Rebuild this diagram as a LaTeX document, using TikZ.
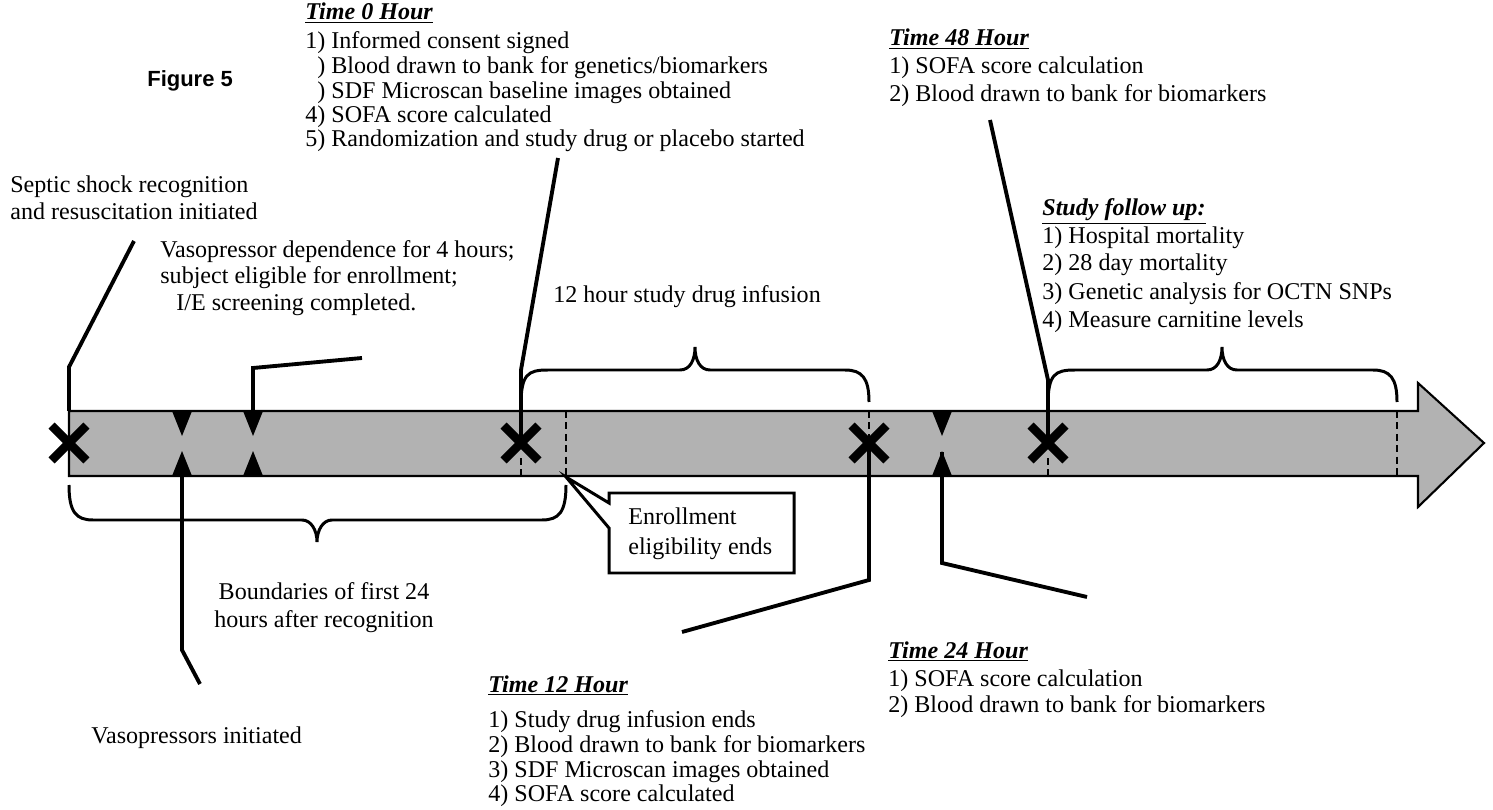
\documentclass[tikz,border=0pt]{standalone}
\usepackage{fontspec}
\setmainfont{Liberation Serif}
\newfontfamily\figfont{Liberation Sans}
\usetikzlibrary{shapes.misc}
\definecolor{barfill}{RGB}{178,178,178}
\begin{document}
\begin{tikzpicture}[x=0.02cm,y=-0.02cm,
  txt/.style={anchor=base west, inner sep=0pt, font=\fontsize{13.7}{14}\selectfont},
  ctxt/.style={anchor=base, inner sep=0pt, font=\fontsize{13.7}{14}\selectfont},
  ttl/.style={anchor=base west, inner sep=0pt, font=\fontsize{13.7}{14}\selectfont\bfseries\itshape},
  conn/.style={line width=2.2pt, line join=miter},
  bracestyle/.style={line width=1.7pt},
  xmark/.style={draw, cross out, line width=5pt, minimum size=0.52cm, inner sep=0pt},
  dashln/.style={dash pattern=on 4pt off 2.5pt, line width=0.6pt},
  tri/.style={fill=black}
]
\useasboundingbox (0,0) rectangle (1493,810);

% ---- timeline bar ----
\draw[fill=barfill, line width=1.2pt] (69,411) -- (1418,411) -- (1418,383) -- (1484,443)
  -- (1418,507) -- (1418,476) -- (69,476) -- cycle;

% dashed ticks
\draw[dashln] (521,458) -- (521,476);
\draw[dashln] (566,411) -- (566,476);
\draw[dashln] (869,411) -- (869,476);
\draw[dashln] (1048,458) -- (1048,476);
\draw[dashln] (1397,411) -- (1397,476);

% triangles
\foreach \tx in {182,253,942}{
  \fill[tri] (\tx-10,411) -- (\tx+10,411) -- (\tx,436) -- cycle;
  \fill[tri] (\tx-10,476) -- (\tx+10,476) -- (\tx,451) -- cycle;
}

% X marks
\node[xmark] (xs) at (69,443) {};
\node[xmark] (x0) at (521,443) {};
\node[xmark] (x12) at (869,443) {};
\node[xmark] (x48) at (1048,443) {};

% ---- texts ----
\node[anchor=base west, inner sep=0pt, font=\figfont\fontsize{12.5}{14}\selectfont\bfseries] (fig) at (147,87) {Figure 5};

\node[ttl] (t0t) at (305,20) {\underline{Time 0 Hour}};
\node[txt] (t0a) at (305,49) {1) Informed consent signed};
\node[txt] (t0b) at (305,74) {\phantom{2}) Blood drawn to bank for genetics/biomarkers};
\node[txt] (t0c) at (305,99) {\phantom{3}) SDF Microscan baseline images obtained};
\node[txt] (t0d) at (305,123) {4) SOFA score calculated};
\node[txt] (t0e) at (305,147) {5) Randomization and study drug or placebo started};

\node[ttl] (t48t) at (889,46) {\underline{Time 48 Hour}};
\node[txt] (t48a) at (889,74) {1) SOFA score calculation};
\node[txt] (t48b) at (889,102) {2) Blood drawn to bank for biomarkers};

\node[txt] (sep1) at (10,193) {Septic shock recognition};
\node[txt] (sep2) at (10,220) {and resuscitation initiated};

\node[txt] (vd1) at (160,258) {Vasopressor dependence for 4 hours;};
\node[txt] (vd2) at (160,284) {subject eligible for enrollment;};
\node[txt] (vd3) at (176,311) {I/E screening completed.};

\node[txt] (inf) at (553,303) {12 hour study drug infusion};

\node[ttl] (fut) at (1042,216) {\underline{Study follow up:}};
\node[txt] (fua) at (1042,244) {1) Hospital mortality};
\node[txt] (fub) at (1042,271) {2) 28 day mortality};
\node[txt] (fuc) at (1042,300) {3) Genetic analysis for OCTN SNPs};
\node[txt] (fud) at (1042,328) {4) Measure carnitine levels};

\node[ctxt] (bd1) at (324,599) {Boundaries of first 24};
\node[ctxt] (bd2) at (324,627) {hours after recognition};

\node[txt] (vin) at (91,743) {Vasopressors initiated};

\node[ttl] (t12t) at (488,692) {\underline{Time 12 Hour}};
\node[txt] (t12a) at (488,727) {1) Study drug infusion ends};
\node[txt] (t12b) at (488,752) {2) Blood drawn to bank for biomarkers};
\node[txt] (t12c) at (488,777) {3) SDF Microscan images obtained};
\node[txt] (t12d) at (488,801) {4) SOFA score calculated};

\node[ttl] (t24t) at (888,658) {\underline{Time 24 Hour}};
\node[txt] (t24a) at (888,686) {1) SOFA score calculation};
\node[txt] (t24b) at (888,712) {2) Blood drawn to bank for biomarkers};

% ---- callout ----
\coordinate (enrTip) at (566,477);
\draw[line width=1.7pt, fill=white, line join=miter] (609,493) -- (794,493) -- (794,573) -- (609,573)
  -- (609,528) -- (enrTip) -- (609,503) -- cycle;
\node[txt] (en1) at (628,524) {Enrollment};
\node[txt] (en2) at (628,554) {eligibility ends};

% ---- connectors ----
\coordinate (sepEnd) at (134,241);
\draw[conn] (sepEnd) -- (69,367) -- (69,411);

\coordinate (vdEnd) at (362,358);
\draw[conn] (vdEnd) -- (253,368) -- (253,411);

\coordinate (vinEnd) at (200,684);
\draw[conn] (182,476) -- (182,650) -- (vinEnd);

\coordinate (t0End) at (558,158);
\draw[conn] (t0End) -- (521,370) -- (x0.center);

\coordinate (t12End) at (682,632);
\draw[conn] (x12.center) -- (869,580) -- (t12End);

\coordinate (t24End) at (1087,597);
\draw[conn] (942,452) -- (942,563) -- (t24End);

\coordinate (t48End) at (990,120);
\draw[conn] (t48End) -- (1048,380) -- (x48.center);

% ---- braces ----
\draw[bracestyle] (521,405) .. controls (521,374) and (528,370) .. (548,370) -- (680,370)
  .. controls (690,370) and (695,360) .. (695,347)
  .. controls (695,360) and (700,370) .. (710,370) -- (845,370)
  .. controls (862,370) and (869,378) .. (869,402);

\draw[bracestyle] (1048,405) .. controls (1048,374) and (1055,370) .. (1075,370) -- (1207,370)
  .. controls (1217,370) and (1222,360) .. (1222,347)
  .. controls (1222,360) and (1227,370) .. (1237,370) -- (1373,370)
  .. controls (1390,370) and (1397,378) .. (1397,402);

\draw[bracestyle] (69,485) .. controls (69,512) and (76,520) .. (93,520) -- (302,520)
  .. controls (311,520) and (317,530) .. (317,542)
  .. controls (317,530) and (323,520) .. (332,520) -- (542,520)
  .. controls (559,520) and (566,512) .. (566,485);
\end{tikzpicture}
\end{document}
